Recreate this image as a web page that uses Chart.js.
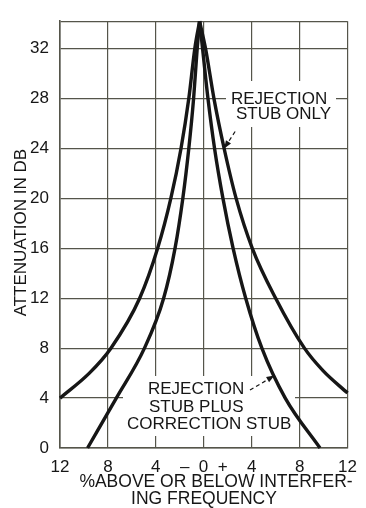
<!DOCTYPE html>
<html lang="en">
<head>
<meta charset="UTF-8" />
<title>Attenuation vs. frequency offset</title>
<script src="https://cdn.jsdelivr.net/npm/chart.js"></script>
<style>
  html, body { margin: 0; padding: 0; background: #fff; }
  #wrap { width: 366px; height: 508px; }
</style>
</head>
<body>
<div id="wrap"><canvas id="chart" width="366" height="508"></canvas></div>
<script>
// percent off the interfering frequency (negative = below), attenuation in dB
// rejection stub only
const stubOnlyLeftX  = [-12, -9.55, -7.75, -5.35, -3.85, -2.75, -1.9, -1.25, -0.75, -0.35];
const stubOnlyLeftY  = [4, 6, 8, 12, 16, 20, 24, 28, 32, 34.2];
const stubOnlyRightX = [-0.35, 0.15, 0.85, 1.7, 2.7, 4.05, 6.0, 8.4, 9.95, 12];
const stubOnlyRightY = [34.2, 32, 28, 24, 20, 16, 12, 8, 6.2, 4.4];
// rejection stub plus correction stub
const correctedLeftX  = [-9.7, -7.3, -4.95, -3.35, -2.4, -1.75, -1.25, -0.85, -0.55, -0.35];
const correctedLeftY  = [0, 4, 8, 12, 16, 20, 24, 28, 32, 34.2];
const correctedRightX = [-0.35, -0.1, 0.35, 0.9, 1.6, 2.45, 3.5, 4.85, 6.8, 9.7];
const correctedRightY = [34.2, 32, 28, 24, 20, 16, 12, 8, 4, 0];

const xTicks = [-12, -8, -4, 0, 4, 8, 12];
const xTickLabels = ['12', '8', '4', '\u2013  0  +', '4', '8', '12'];
const yTicks = [0, 4, 8, 12, 16, 20, 24, 28, 32];
const yTop = 34.2;

const yTitle = 'ATTENUATION IN DB';
const xTitle = ['%ABOVE OR BELOW INTERFER-', 'ING FREQUENCY'];
const stubOnlyLabel = ['REJECTION', 'STUB ONLY'];
const correctedLabel = ['REJECTION', 'STUB PLUS', 'CORRECTION STUB'];

const ink = '#161616';
const gridInk = '#55554a';
const font = '"Liberation Sans", Arial, sans-serif';

const pts = (xs, ys) => xs.map((x, i) => ({ x: x, y: ys[i] }));
const curve = (xs, ys) => ({
  data: pts(xs, ys),
  showLine: true,
  borderColor: ink,
  borderWidth: 3.4,
  pointRadius: 0,
  cubicInterpolationMode: 'monotone',
  clip: false
});

function arrow(ctx, x0, y0, x1, y1) {
  ctx.save();
  ctx.strokeStyle = ink;
  ctx.fillStyle = ink;
  ctx.lineWidth = 1.2;
  ctx.setLineDash([4, 3]);
  ctx.beginPath();
  ctx.moveTo(x0, y0);
  ctx.lineTo(x1, y1);
  ctx.stroke();
  ctx.setLineDash([]);
  const a = Math.atan2(y1 - y0, x1 - x0);
  ctx.beginPath();
  ctx.moveTo(x1, y1);
  ctx.lineTo(x1 - 8 * Math.cos(a) + 3 * Math.sin(a), y1 - 8 * Math.sin(a) - 3 * Math.cos(a));
  ctx.lineTo(x1 - 8 * Math.cos(a) - 3 * Math.sin(a), y1 - 8 * Math.sin(a) + 3 * Math.cos(a));
  ctx.closePath();
  ctx.fill();
  ctx.restore();
}

const notes = {
  id: 'notes',
  beforeDatasetsDraw(chart) {
    // clear the grid behind the curve labels
    const ctx = chart.ctx;
    ctx.save();
    ctx.fillStyle = '#fff';
    ctx.fillRect(226, 81, 110, 46);
    ctx.fillRect(123, 376, 172, 60);
    ctx.restore();
  },
  afterDatasetsDraw(chart) {
    const ctx = chart.ctx;
    const { x, y } = chart.scales;
    const area = chart.chartArea;
    ctx.save();
    ctx.fillStyle = ink;
    ctx.font = '17px ' + font;
    ctx.textBaseline = 'middle';

    ctx.save();
    ctx.translate(21, (area.top + area.bottom) / 2 - 2);
    ctx.rotate(-Math.PI / 2);
    ctx.textAlign = 'center';
    ctx.fillText(yTitle, 0, 0);
    ctx.restore();

    ctx.textAlign = 'center';
    ctx.font = '17.5px ' + font;
    ctx.fillText(xTitle[0], 216, 482);
    ctx.fillText(xTitle[1], 204, 499);
    ctx.font = '17px ' + font;

    ctx.textAlign = 'left';
    ctx.fillText(stubOnlyLabel[0], 231, 99);
    ctx.fillText(stubOnlyLabel[1], 236, 114);
    ctx.fillText(correctedLabel[0], 148, 389);
    ctx.fillText(correctedLabel[1], 149, 407);
    ctx.fillText(correctedLabel[2], 127, 424);

    // leaders to the curves
    const tipA = { x: x.getPixelForValue(1.7), y: y.getPixelForValue(24) };
    arrow(ctx, tipA.x + 11, tipA.y - 17, tipA.x, tipA.y);
    const tipB = { x: x.getPixelForValue(5.9), y: y.getPixelForValue(5.8) };
    arrow(ctx, 250, 390, tipB.x, tipB.y);
    ctx.restore();
  }
};

new Chart(document.getElementById('chart'), {
  type: 'scatter',
  data: {
    datasets: [
      curve(stubOnlyLeftX, stubOnlyLeftY),
      curve(stubOnlyRightX, stubOnlyRightY),
      curve(correctedLeftX, correctedLeftY),
      curve(correctedRightX, correctedRightY)
    ]
  },
  options: {
    responsive: false,
    animation: false,
    layout: { padding: { top: 16, right: 13, left: 0, bottom: 0 } },
    plugins: {
      legend: { display: false },
      tooltip: { enabled: false }
    },
    scales: {
      x: {
        type: 'linear',
        min: -12,
        max: 12,
        afterBuildTicks: s => { s.ticks = xTicks.map(v => ({ value: v })); },
        afterFit: s => { s.height = 60; },
        ticks: {
          autoSkip: false,
          maxRotation: 0,
          padding: 9,
          color: ink,
          font: { family: font, size: 17 },
          callback: v => xTickLabels[xTicks.indexOf(v)]
        },
        grid: { color: gridInk, lineWidth: 1.2, drawTicks: false },
        border: { color: gridInk, width: 1.6 }
      },
      y: {
        type: 'linear',
        min: 0,
        max: yTop,
        afterBuildTicks: s => { s.ticks = yTicks.concat([yTop]).map(v => ({ value: v })); },
        afterFit: s => { s.width = 60; },
        ticks: {
          padding: 11,
          color: ink,
          font: { family: font, size: 17 },
          callback: v => (v > 32 ? '' : String(v))
        },
        grid: { color: gridInk, lineWidth: 1.2, drawTicks: false },
        border: { color: gridInk, width: 1.6 }
      }
    }
  },
  plugins: [notes]
});
</script>
</body>
</html>
